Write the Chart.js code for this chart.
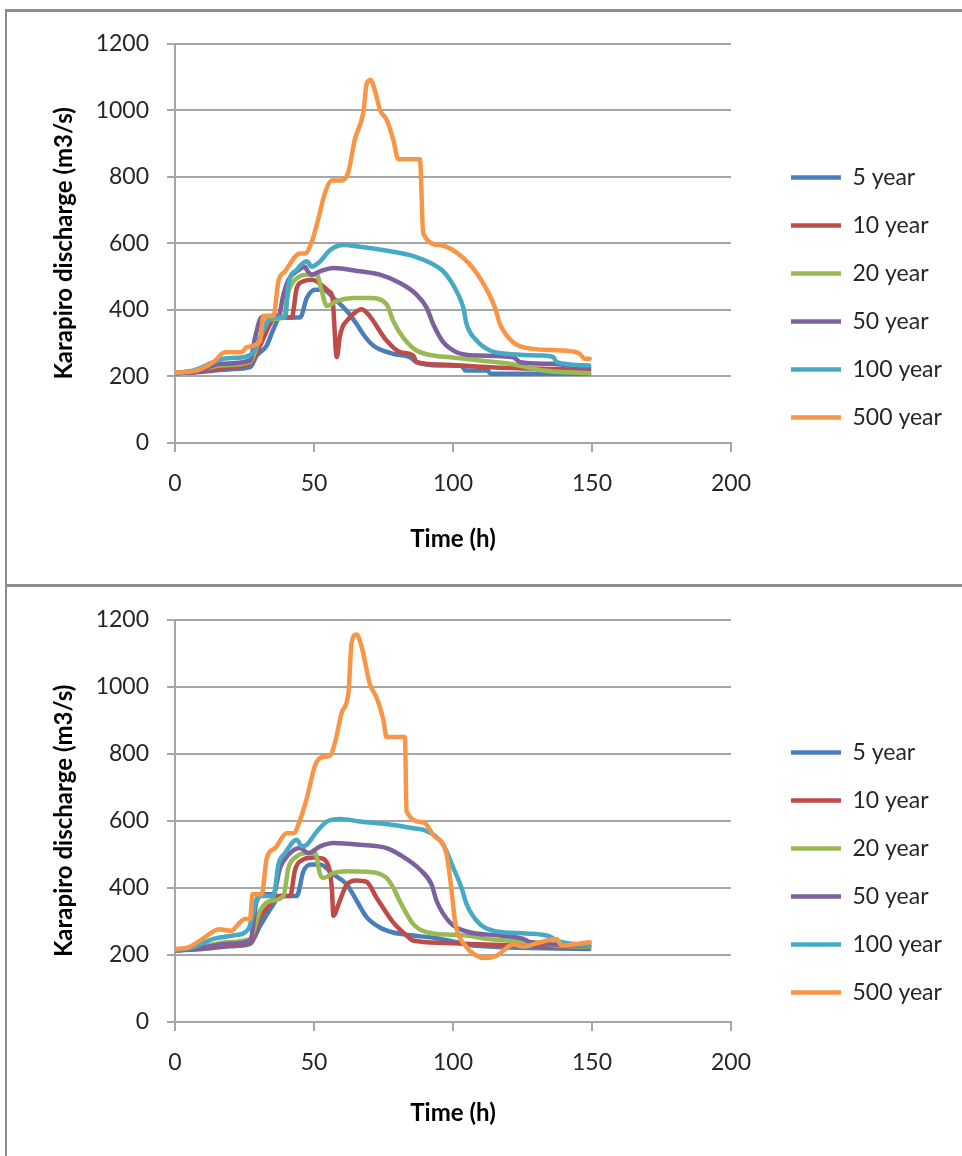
<!DOCTYPE html>
<html>
<head>
<meta charset="utf-8">
<script src="https://cdn.jsdelivr.net/npm/chart.js@4.4.0/dist/chart.umd.min.js"></script>
<style>
    html, body { margin: 0; padding: 0; width: 962px; height: 1156px; overflow: hidden; background: #fff; }
    .frame { position: absolute; left: 5px; width: 1000px; border-left: 2px solid #8c8c8c; border-top: 3px solid #8c8c8c; }
    #frameTop { top: 9px; height: 573px; }
    #frameBottom { top: 584px; height: 600px; }
    canvas { position: absolute; left: 0; }
    #topChart { top: 12px; }
    #bottomChart { top: 588px; }
</style>
</head>
<body>
<div class="frame" id="frameTop"></div>
<div class="frame" id="frameBottom"></div>
<canvas id="topChart" width="1000" height="572"></canvas>
<canvas id="bottomChart" width="1000" height="568"></canvas>
<script>
// Series labels and colours
const seriesLabels = ['5 year', '10 year', '20 year', '50 year', '100 year', '500 year'];
const seriesColors = ['#4a7ebb', '#be4b48', '#98b954', '#7d60a0', '#46aac5', '#f79646'];

// Axis ticks
const xMin = 0, xMax = 200, xStep = 50;
const yMin = 0, yMax = 1200, yStep = 200;

// Top chart - [time (h), discharge (m3/s)]
const top5 = [[0,210],[10,214],[20,222],[27,228],[29.4,263],[33,293],[35.4,342],[37.8,377],[45,377],[47.4,436],[50.4,461],[53.4,461],[57,436],[61.8,397],[65.4,357],[67.7,327],[71.3,293],[78.5,268],[84.5,258],[86.9,243],[95.3,233],[103,232],[104.5,218],[112.5,218],[113.5,208],[149,208]];
const top10 = [[0,210],[10,216],[20,228],[27,238],[30.6,293],[34.2,357],[36,377],[42,377],[43.8,466],[46.2,486],[49.2,491],[51,486],[54,466],[55.5,455],[56.6,440],[58.2,258],[59.3,320],[60.3,350],[61.8,367],[64.7,392],[67.1,402],[69.5,387],[76.1,308],[81,273],[85.7,263],[86.9,243],[95.3,236],[113.3,228],[131.3,223],[149,220]];
const top20 = [[0,210],[10,220],[16.2,233],[27,243],[29.4,288],[31.8,347],[33.6,372],[39,377],[40.8,456],[43.2,491],[47.4,506],[51,506],[52.8,456],[54.6,412],[58.2,427],[64.1,436],[70.1,436],[76.1,417],[78.5,367],[82.1,317],[86.9,278],[92.9,263],[98.9,258],[109.7,248],[120.5,238],[132.5,218],[149,210]];
const top50 = [[0,210],[7.8,213],[16.2,238],[27,248],[28.8,317],[30.6,372],[32.4,382],[37.2,382],[39,446],[40.8,491],[43.8,516],[46.8,530],[47.4,521],[49.2,506],[52.2,516],[57,526],[66.5,516],[73.7,506],[80.9,481],[86.9,446],[90.5,407],[92.9,357],[96.5,303],[101.3,273],[108.5,263],[121.7,258],[124.1,243],[134.9,238],[149,226]];
const top100 = [[0,210],[6.6,218],[17.4,253],[24.6,258],[28.2,273],[30.6,317],[33.6,367],[35.4,377],[39.6,377],[40.8,476],[43.8,521],[47.4,546],[49.2,530],[52.2,546],[55.8,580],[60.6,595],[66.5,590],[78.5,575],[85.7,562],[92,541],[96,520],[98.9,491],[101.9,446],[103.7,407],[104.9,357],[108.5,308],[113.3,278],[119.3,268],[131.3,263],[136.1,258],[137.3,243],[149,233]];
const top500 = [[0,212],[7.8,218],[13.8,243],[18,273],[24,273],[25.8,288],[30.6,307],[31.8,382],[35.4,382],[37.2,486],[39.6,516],[45,570],[46.8,570],[49.2,605],[51.6,675],[54,754],[56.4,789],[60,789],[62.3,813],[64.7,913],[67.7,992],[69,1081],[70.4,1091],[72,1057],[73.7,1002],[76.1,972],[78.5,913],[80.3,853],[88.1,853],[89.3,630],[95.3,595],[103.7,556],[109.7,496],[115.1,407],[116.9,357],[121.7,302],[128.9,283],[139.6,278],[145.6,268],[147.4,253],[149.2,253]];

// Bottom chart - [time (h), discharge (m3/s)]
const bot5 = [[0,213],[10,218],[20,226],[27,233],[30.6,287],[35.4,351],[37.8,376],[43.8,376],[46.2,450],[49.2,470],[52.2,470],[57,440],[61.8,410],[65.4,361],[69,312],[73.7,282],[78.5,267],[85.7,258],[94.1,250],[100,240],[107.3,228],[149,218]];
const bot10 = [[0,213],[10,220],[20,230],[27,238],[30.6,312],[34.2,351],[36,376],[41.4,376],[43.2,455],[46.2,485],[49.8,491],[52.2,489],[55.2,465],[56.4,401],[57,317],[58.8,351],[61.8,410],[65.3,422],[68.9,418],[72.5,371],[78.5,297],[83.3,258],[85.7,243],[96.5,236],[116.9,230],[149,223]];
const bot20 = [[0,213],[10,225],[18.6,238],[27,248],[30.6,332],[34.2,361],[39,376],[40.8,460],[43.8,494],[47.4,504],[50.4,504],[52.2,440],[53.4,430],[57,445],[61.8,450],[68.9,448],[76.1,430],[78.5,401],[80.9,360],[85.7,292],[90.5,268],[100.1,260],[104.9,258],[112.1,248],[128.9,238],[137.3,228],[149,225]];
const bot50 = [[0,213],[10,222],[18.6,233],[27,243],[29.4,361],[31.8,381],[35.4,381],[37.8,460],[40.8,499],[45,519],[48,504],[52.2,524],[57,534],[66.5,529],[76.1,519],[80.9,499],[88.1,455],[92.3,410],[94.1,361],[98.9,297],[104.9,270],[116.9,258],[125.3,248],[127.7,238],[149,228]];
const bot100 = [[0,215],[6.6,223],[13.8,248],[21,258],[26.4,277],[28.2,327],[30,376],[35.4,376],[37.2,470],[39.6,504],[43.8,544],[45.6,524],[47.4,529],[51,568],[54.6,598],[59.4,606],[66.5,598],[78.5,588],[85.7,578],[90.5,570],[96.5,529],[100.1,460],[103.1,400],[104.9,351],[109.7,292],[115.7,270],[126.5,264],[134.9,255],[137.3,243],[149,228]];
const bot500 = [[0,218],[4.2,221],[9,243],[13.2,267],[15.6,277],[20.4,272],[22.2,287],[25.2,307],[27,307],[27.9,381],[31.2,381],[33,489],[36,519],[40.2,563],[42.6,563],[45,603],[47.4,667],[50.4,766],[52.8,790],[55.8,795],[57.6,835],[60,924],[62.4,983],[63.5,1131],[65.3,1156],[67.1,1121],[70.1,1008],[72.5,968],[74.9,904],[76.1,850],[82.7,850],[83.3,628],[89.3,596],[92.9,558],[97.7,499],[99.5,391],[100.7,302],[104.9,223],[108,200],[111.5,191],[115.7,198],[121.7,231],[125.3,225],[131.3,238],[137.3,248],[139.1,228],[144.5,233],[149.2,238]];

const plotRight = 731;
const gridColor = '#a6a6a6';
const textColor = '#262626';

Chart.defaults.font.family = "Lato, 'Liberation Sans', sans-serif";
Chart.defaults.font.size = 23;
Chart.defaults.color = textColor;

function buildDatasets(seriesList) {
    return seriesList.map((points, i) => ({
        label: seriesLabels[i],
        data: points.map(p => ({ x: p[0], y: p[1] })),
        borderColor: seriesColors[i],
        backgroundColor: seriesColors[i],
        borderWidth: 4.5,
        borderCapStyle: 'round',
        borderJoinStyle: 'round',
        pointRadius: 0,
        cubicInterpolationMode: 'monotone',
        order: seriesList.length - i
    }));
}

function makeChart(canvasId, seriesList, xAxisHeight, padBottom) {
    const chart = new Chart(document.getElementById(canvasId), {
        type: 'line',
        data: { datasets: buildDatasets(seriesList) },
        options: {
            responsive: false,
            animation: false,
            layout: { padding: { left: 50, top: 29, right: 40, bottom: padBottom } },
            plugins: {
                legend: {
                    position: 'right',
                    maxWidth: 320,
                    labels: {
                        usePointStyle: true,
                        pointStyle: 'line',
                        pointStyleWidth: 50,
                        padding: 25,
                        color: textColor,
                        sort: (a, b) => a.datasetIndex - b.datasetIndex
                    }
                },
                tooltip: { enabled: false }
            },
            scales: {
                x: {
                    type: 'linear',
                    min: xMin,
                    max: xMax,
                    ticks: { stepSize: xStep, padding: 18, color: textColor, callback: v => String(v) },
                    grid: { drawOnChartArea: false, drawTicks: true, tickLength: 9, color: gridColor, lineWidth: 2 },
                    border: { display: true, color: gridColor, width: 2 },
                    title: { display: true, text: 'Time (h)', color: '#000', font: { size: 24, weight: 'bold' }, padding: 0 },
                    afterFit: scale => { scale.height = xAxisHeight; }
                },
                y: {
                    min: yMin,
                    max: yMax,
                    ticks: { stepSize: yStep, padding: 18, color: textColor, callback: v => String(v) },
                    grid: { color: gridColor, lineWidth: 2, tickLength: 8 },
                    border: { display: true, color: gridColor, width: 2 },
                    title: { display: true, text: 'Karapiro discharge (m3/s)', color: '#000', font: { size: 24, weight: 'bold' }, padding: 0 },
                    afterFit: scale => { scale.width = 125; }
                },
                // empty axis: keeps the gap between plot and legend
                gap: {
                    position: 'right',
                    display: true,
                    grid: { display: false },
                    ticks: { display: false },
                    border: { display: false },
                    afterFit: scale => { scale.width = 35; }
                }
            }
        }
    });
    // pin the right edge of the plot area
    const delta = chart.chartArea.right - plotRight;
    if (Math.abs(delta) > 0.5) {
        chart.options.layout.padding.right += delta;
        chart.update('none');
    }
    return chart;
}

makeChart('topChart', [top5, top10, top20, top50, top100, top500], 111, 30);
makeChart('bottomChart', [bot5, bot10, bot20, bot50, bot100, bot500], 106, 28);
</script>
</body>
</html>
